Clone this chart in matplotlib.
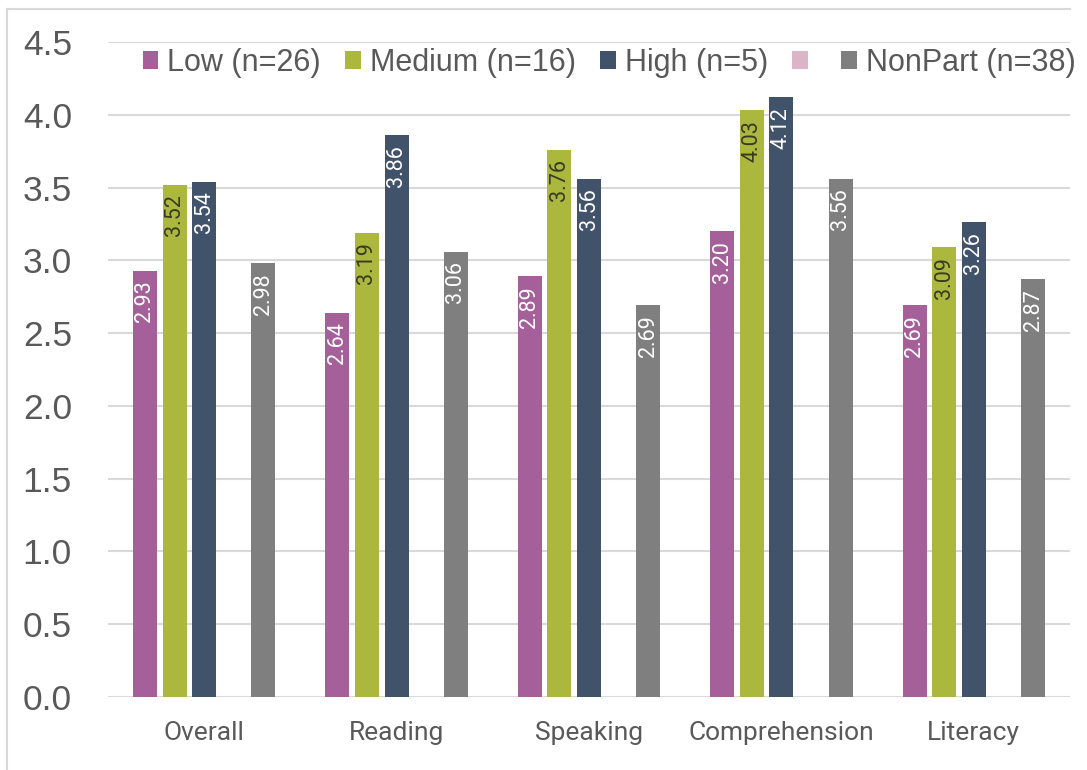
import matplotlib
matplotlib.use("Agg")
import matplotlib.pyplot as plt
from matplotlib.patches import Patch
from matplotlib.lines import Line2D
import numpy as np

categories = ["Overall", "Reading", "Speaking", "Comprehension", "Literacy"]
low = [2.93, 2.64, 2.89, 3.20, 2.69]
medium = [3.52, 3.19, 3.76, 4.03, 3.09]
high = [3.54, 3.86, 3.56, 4.12, 3.26]
nonpart = [2.98, 3.06, 2.69, 3.56, 2.87]
series_labels = ["Low (n=26)", "Medium (n=16)", "High (n=5)", "", "NonPart (n=38)"]
yticks = [0.0, 0.5, 1.0, 1.5, 2.0, 2.5, 3.0, 3.5, 4.0, 4.5]

colors = ["#A5609A", "#ABB83D", "#41526B", "#DBB4C8", "#7F7F7F"]
label_colors = ["#FFFFFF", "#3A3A22", "#FFFFFF", None, "#FFFFFF"]
series = [low, medium, high, None, nonpart]

fig = plt.figure(figsize=(10.87, 7.70), dpi=100)
ax = fig.add_axes([108 / 1087, 1 - 697 / 770, (1070 - 108) / 1087, (697 - 42) / 770])

x = np.arange(len(categories))
step = 0.154
width = 0.125
text_font = ["Roboto", "DejaVu Sans"]

for i, (vals, col, lc) in enumerate(zip(series, colors, label_colors)):
    if vals is None:
        continue
    pos = x + (i - 2) * step
    bars = ax.bar(pos, vals, width=width, color=col, zorder=3)
    for b, v in zip(bars, vals):
        ax.annotate(f"{v:.2f}", xy=(b.get_x() + b.get_width() / 2, v),
                    xytext=(0, -7), textcoords="offset points",
                    rotation=90, ha="center", va="top", color=lc,
                    fontsize=15.5, family=text_font, zorder=4)

ax.set_ylim(0, 4.5)
ax.set_xlim(-0.5, len(categories) - 0.5)
ax.set_yticks(yticks)
ax.set_yticklabels([f"{t:.1f}" for t in yticks], fontsize=25.5,
                   color="#595959", family="Liberation Sans")
ax.set_xticks(x)
ax.set_xticklabels(categories, fontsize=19, color="#595959", family=text_font)
ax.tick_params(axis="both", length=0)
ax.tick_params(axis="y", pad=26)
ax.tick_params(axis="x", pad=17)
ax.yaxis.grid(True, color="#D9D9D9", linewidth=1.5, zorder=0)
ax.set_axisbelow(True)
for s in ax.spines.values():
    s.set_visible(False)

handles = [Patch(facecolor=c, edgecolor="none") for c in colors]
leg = ax.legend(handles, series_labels, loc="center", ncol=5,
                bbox_to_anchor=(0.521, 1 - (63 - 42) / 655), frameon=False,
                prop={"family": "Liberation Sans", "size": 22},
                handlelength=0.5, handleheight=0.5, handletextpad=0.3,
                columnspacing=0.8, borderaxespad=0, borderpad=0)
for t in leg.get_texts():
    t.set_color("#595959")

# chart area outline
fig.add_artist(Line2D([7 / 1087, 7 / 1087], [0, 1 - 9 / 770],
                      transform=fig.transFigure, color="#D9D9D9", linewidth=1.5))
fig.add_artist(Line2D([7 / 1087, 1070 / 1087], [1 - 9 / 770, 1 - 9 / 770],
                      transform=fig.transFigure, color="#D9D9D9", linewidth=1.5))

fig.savefig("out.png", dpi=100)
